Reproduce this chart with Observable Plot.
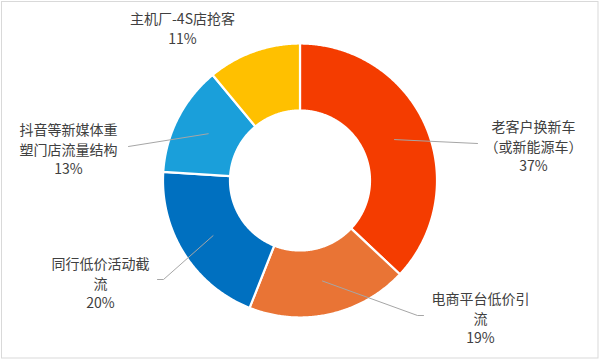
<!DOCTYPE html>
<html>
<head>
<meta charset="utf-8">
<script src="https://cdn.jsdelivr.net/npm/d3@7"></script>
<script src="https://cdn.jsdelivr.net/npm/@observablehq/plot@0.6"></script>
<style>
  html, body { margin: 0; padding: 0; background: #fff; }
  #chart { width: 600px; height: 361px; }
</style>
</head>
<body>
<div id="chart"></div>
<script>
// ---- data ----
const categories = ["老客户换新车\n（或新能源车）", "电商平台低价引\n流", "同行低价活动截\n流", "抖音等新媒体重\n塑门店流量结构", "主机厂-4S店抢客"];
const values = [37, 19, 20, 13, 11];
const pctLabels = ["37%", "19%", "20%", "13%", "11%"];
const colors = ["#F43C00", "#E97435", "#0070C0", "#1A9FDA", "#FFC000"];

// ---- layout (pixels) ----
const W = 600, H = 361;
const cx = 299.5, cy = 180;
const rOuter = 137, rInner = 70, rLeader = 103;
// label block centres (pixel) and leader-line elbow points (pixel)
const labelPos = [[533, 145], [480, 317], [100, 282], [68, 148], [182, 27]];
const leaderPts = [
  [[477, 143]],
  [[417, 315], [423, 315]],
  [[163, 279], [157, 279]],
  [[128, 146]],
  null
];

// ---- geometry from values ----
const total = d3.sum(values);
const slices = [];
const leaders = [];
let acc = 0;
values.forEach((v, i) => {
  const a0 = acc / total * 2 * Math.PI;
  const a1 = (acc + v) / total * 2 * Math.PI;
  acc += v;
  const n = Math.max(2, Math.ceil((a1 - a0) / (Math.PI / 360)));
  const pts = [];
  for (let k = 0; k <= n; k++) {
    const a = a0 + (a1 - a0) * k / n;
    pts.push({cat: categories[i], x: rOuter * Math.sin(a), y: -rOuter * Math.cos(a)});
  }
  for (let k = n; k >= 0; k--) {
    const a = a0 + (a1 - a0) * k / n;
    pts.push({cat: categories[i], x: rInner * Math.sin(a), y: -rInner * Math.cos(a)});
  }
  slices.push(...pts);
  if (leaderPts[i]) {
    const am = (a0 + a1) / 2;
    leaders.push({id: i, x: rLeader * Math.sin(am), y: -rLeader * Math.cos(am)});
    leaderPts[i].forEach(([px, py]) => leaders.push({id: i, x: px - cx, y: py - cy}));
  }
});

const labels = categories.map((c, i) => ({
  text: c + "\n" + pctLabels[i],
  x: labelPos[i][0] - cx,
  y: labelPos[i][1] - cy
}));

const chart = Plot.plot({
  width: W,
  height: H,
  margin: 0,
  x: {domain: [-cx, W - cx], range: [0, W], axis: null},
  y: {domain: [-cy, H - cy], range: [0, H], axis: null},
  color: {domain: categories, range: colors},
  style: {fontFamily: "'Noto Sans CJK SC', 'Noto Sans', sans-serif", background: "#fff"},
  marks: [
    Plot.frame({stroke: "#d9d9d9", insetLeft: 1, insetTop: 1, insetRight: 2.5, insetBottom: 3.5}),
    Plot.line(slices, {x: "x", y: "y", z: "cat", fill: "cat", stroke: "#fff", strokeWidth: 2.2, curve: "linear-closed"}),
    Plot.line(leaders, {x: "x", y: "y", z: "id", stroke: "#a6a6a6", strokeWidth: 1}),
    Plot.text(labels, {x: "x", y: "y", text: "text", fontSize: 14, lineHeight: 1.4, fill: "#404040", textAnchor: "middle", lineAnchor: "middle"})
  ]
});
document.getElementById("chart").appendChild(chart);
</script>
</body>
</html>
